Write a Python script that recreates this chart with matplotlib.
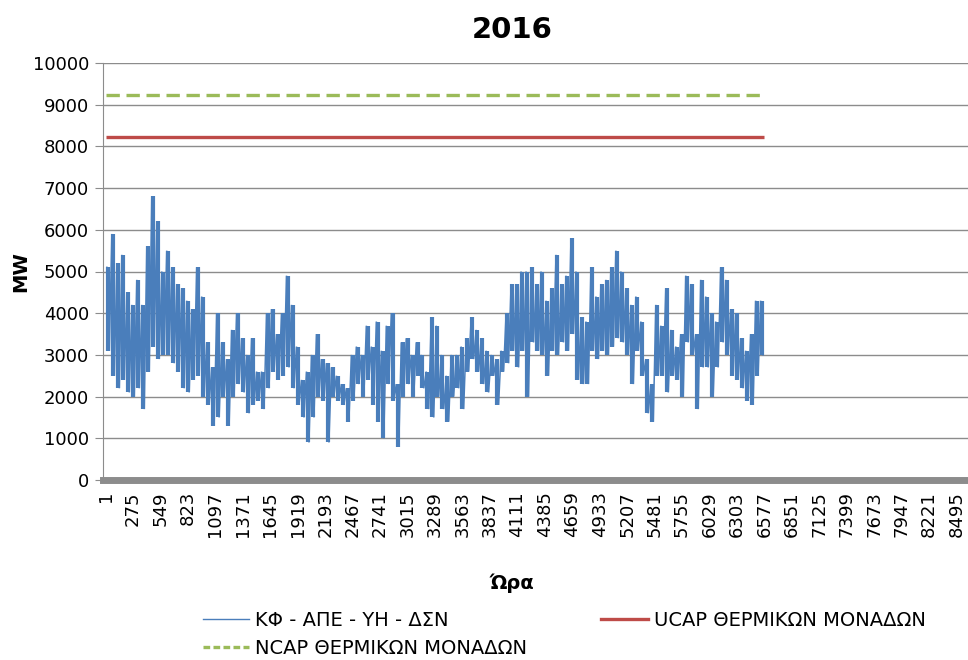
import numpy as np
import matplotlib
matplotlib.use("Agg")
import matplotlib.pyplot as plt
from matplotlib.lines import Line2D

load_high = [
    5100, 5900, 5200, 5400, 4500, 4200, 4800, 4200, 5600, 6800,
    6200, 5000, 5500, 5100, 4700, 4600, 4300, 4100, 5100, 4400,
    3300, 2700, 4000, 3300, 2900, 3600, 4000, 3400, 3000, 3400,
    2600, 2600, 4000, 4100, 3500, 4000, 4900, 4200, 3200, 2400,
    2600, 3000, 3500, 2900, 2800, 2700, 2500, 2300, 2200, 3000,
    3200, 3000, 3700, 3200, 3800, 3100, 3700, 4000, 2300, 3300,
    3400, 3000, 3300, 3000, 2600, 3900, 3700, 3000, 2500, 3000,
    3000, 3200, 3400, 3900, 3600, 3400, 3100, 3000, 2900, 3100,
    4000, 4700, 4700, 5000, 5000, 5100, 4700, 5000, 4300, 4600,
    5400, 4700, 4900, 5800, 5000, 3900, 3800, 5100, 4400, 4700,
    4800, 5100, 5500, 5000, 4600, 4200, 4400, 3800, 2900, 2300,
    4200, 3700, 4600, 3600, 3200, 3500, 4900, 4700, 3500, 4800,
    4400, 4000, 3800, 5100, 4800, 4100, 4000, 3400, 3100, 3500,
    4300, 4300,
]
load_low = [
    3100, 2500, 2200, 2400, 2100, 2000, 2200, 1700, 2600, 3200,
    2900, 3000, 3000, 2800, 2600, 2200, 2100, 2400, 2500, 2000,
    1800, 1300, 1500, 2000, 1300, 2000, 2300, 2100, 1600, 1800,
    1900, 1700, 2200, 2600, 2400, 2500, 2700, 2200, 1800, 1500,
    900, 1500, 2000, 1900, 900, 2000, 1900, 1800, 1400, 1900,
    2300, 2000, 2400, 1800, 1400, 1000, 2300, 1900, 800, 2000,
    2300, 2000, 2500, 2200, 1700, 1500, 2000, 1700, 1400, 2000,
    2200, 1700, 2600, 2900, 2600, 2300, 2100, 2500, 1800, 2600,
    2800, 3100, 2700, 3100, 2000, 3300, 3100, 3000, 2500, 3100,
    3000, 3300, 3100, 3500, 2400, 2300, 2300, 3100, 2900, 3100,
    3000, 3200, 3400, 3300, 3000, 2300, 3100, 2500, 1600, 1400,
    2500, 2500, 2100, 2500, 2400, 2000, 3300, 3000, 1700, 2700,
    2700, 2000, 2700, 3300, 3000, 2500, 2400, 2200, 1900, 1800,
    2500, 3000,
]
n_hours = 6576
ucap = 8230
ncap = 9240
tick_hours = list(range(1, 8496, 274))

title = "2016"
label_load = "ΚΦ - ΑΠΕ - ΥΗ - ΔΣΝ"
label_ucap = "UCAP ΘΕΡΜΙΚΩΝ ΜΟΝΑΔΩΝ"
label_ncap = "NCAP ΘΕΡΜΙΚΩΝ ΜΟΝΑΔΩΝ"

blue = "#4a7ebb"
red = "#be4b48"
green = "#9bbb59"
grid_gray = "#8c8c8c"

plt.rcParams['font.family'] = ['DejaVu Sans']

# each block: a vertical stroke over its range, plus the zigzag high -> low
block = n_hours / len(load_high)
centers = 1 + block * (np.arange(len(load_high)) + 0.5)
hours, values = [], []
for k, (hi, lo) in enumerate(zip(load_high, load_low)):
    start = 1 + k * block
    hours += [start + 0.25 * block, start + 0.75 * block]
    values += [hi, lo]

fig = plt.figure(figsize=(9.68, 6.6), dpi=100)
ax = fig.add_axes([103 / 968, 1 - 480 / 660, 1 - 103 / 968, (480 - 63) / 660])

ax.vlines(centers, load_low, load_high, color=blue, lw=3.0)
ax.plot(hours, values, color=blue, lw=1.1, solid_joinstyle='bevel')
ax.plot([1, n_hours], [ucap, ucap], color=red, lw=2.4, solid_capstyle='butt')
ax.plot([1, n_hours], [ncap, ncap], color=green, lw=2.4, ls=(0, (4, 2)))

ax.set_ylim(0, 10000)
ax.set_yticks(range(0, 10001, 1000))
ax.set_xlim(-25, 8610)
ax.set_xticks(tick_hours)
ax.set_xticklabels([str(h) for h in tick_hours], rotation=90, fontsize=13)
ax.tick_params(axis='x', length=0, pad=8)
ax.tick_params(axis='y', length=6, color=grid_gray, labelsize=13, pad=4)

ax.grid(axis='y', color=grid_gray, lw=1)
ax.set_axisbelow(True)
for s in ['top', 'right']:
    ax.spines[s].set_visible(False)
ax.spines['left'].set_color(grid_gray)
ax.spines['bottom'].set_color(grid_gray)
ax.spines['bottom'].set_linewidth(5)

ax.set_ylabel("MW", fontsize=14, fontweight='bold', labelpad=2)
fig.text(512 / 968, 1 - 583 / 660, "Ώρα", fontsize=14, fontweight='bold',
         ha='center', va='center')
fig.text(512 / 968, 1 - 30 / 660, title, fontsize=21, fontweight='bold',
         ha='center', va='center')

handles = [Line2D([], [], color=blue, lw=1),
           Line2D([], [], color=green, lw=2.4, ls=(0, (2, 1))),
           Line2D([], [], color=red, lw=2.4)]
labels = [label_load, label_ncap, label_ucap]
fig.legend(handles, labels, ncol=2, loc='upper left',
           bbox_to_anchor=(195 / 968, 1 - 603 / 660), frameon=False,
           fontsize=14, handlelength=2.4, handletextpad=0.3,
           columnspacing=3.8, labelspacing=0.45, borderaxespad=0)

fig.savefig("out.png", dpi=100)
